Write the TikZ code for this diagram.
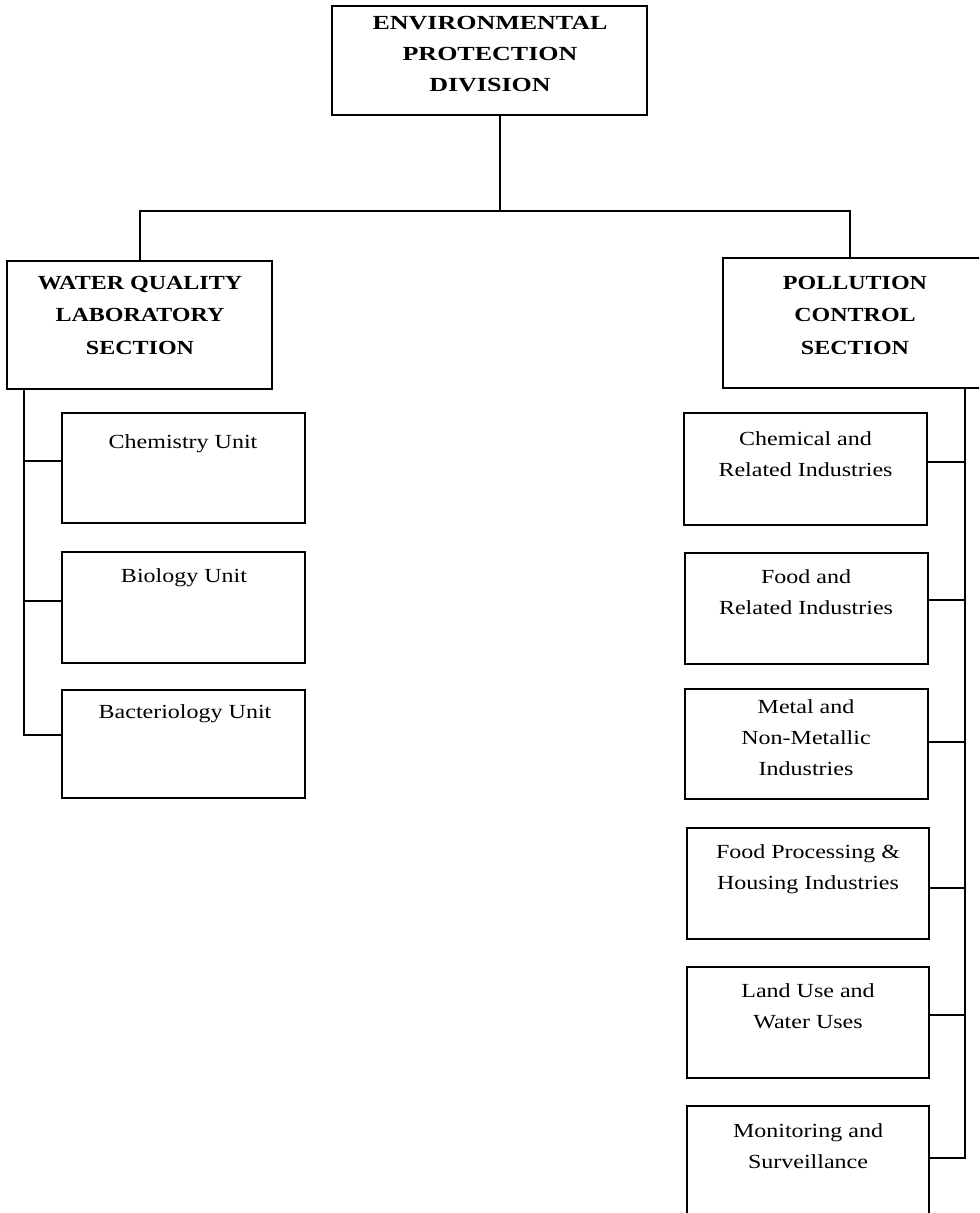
\documentclass[tikz,border=0pt]{standalone}
\usepackage{fontspec}
\setmainfont{Liberation Serif}[FakeStretch=1.2]
\newfontfamily\titlefont{Liberation Serif}[FakeStretch=1.3]
\usetikzlibrary{fit}

\tikzset{
  box/.style={draw, inner sep=0pt, line width=1.1pt},
  txt/.style={inner sep=0pt, anchor=north, align=center,
              font=\fontsize{15}{23}\selectfont},
  sectxt/.style={txt, font=\fontsize{15}{24.5}\selectfont\bfseries},
  titletxt/.style={txt, font=\titlefont\fontsize{15}{23.3}\selectfont\bfseries},
  link/.style={line width=1.1pt}
}

\begin{document}
\begin{tikzpicture}[x=0.75pt, y=-0.75pt]
\useasboundingbox (0,0) rectangle (979,1213);
\clip (0,0) rectangle (979,1213);

% division and its two sections
\node[box, fit={(332,6) (647,115)}] (epd) {};
\node[box, fit={(7,261) (272,389)}] (wql) {};
\node[box, fit={(723,258) (985,388)}] (pcs) {};

\node[titletxt] (epd-t) at (490,15.7) {ENVIRONMENTAL\\PROTECTION\\DIVISION};
\node[sectxt] (wql-t) at (140,275.7) {WATER QUALITY\\LABORATORY\\SECTION};
\node[sectxt] (pcs-t) at (855,275.7) {POLLUTION\\CONTROL\\SECTION};

% laboratory units
\node[box, fit={(62,413) (305,523)}] (chm) {};
\node[box, fit={(62,552) (305,663)}] (bio) {};
\node[box, fit={(62,690) (305,798)}] (bac) {};
\node[txt] (chm-t) at (183,434.7) {Chemistry Unit};
\node[txt] (bio-t) at (184,568.7) {Biology Unit};
\node[txt] (bac-t) at (185,704.7) {Bacteriology Unit};

% pollution control units
\node[box, fit={(684,413) (927,525)}] (cri) {};
\node[box, fit={(685,553) (928,664)}] (fri) {};
\node[box, fit={(685,689) (928,799)}] (mni) {};
\node[box, fit={(687,828) (929,939)}] (fph) {};
\node[box, fit={(687,967) (929,1078)}] (luw) {};
\node[box, fit={(687,1106) (929,1222)}] (mos) {};
\node[txt] (cri-t) at (805.5,431.7) {Chemical and\\Related Industries};
\node[txt] (fri-t) at (806,569.7) {Food and\\Related Industries};
\node[txt] (mni-t) at (806,699.7) {Metal and\\Non-Metallic\\Industries};
\node[txt] (fph-t) at (808,844.7) {Food Processing \&\\Housing Industries};
\node[txt] (luw-t) at (808,983.7) {Land Use and\\Water Uses};
\node[txt] (mos-t) at (808,1123.7) {Monitoring and\\Surveillance};

% top-level connectors
\coordinate (stem) at (500,211);
\coordinate (busL) at (140,211);
\coordinate (busR) at (850,211);
\draw[link] (epd.south -| stem) -- (stem);
\draw[link] (wql.north -| busL) -- (busL) -- (busR) -- (pcs.north -| busR);

% laboratory bus
\coordinate (lbus) at (24,0);
\coordinate (chmJ) at (62,461);
\coordinate (bioJ) at (62,601);
\coordinate (bacJ) at (62,735);
\draw[link] (wql.south -| lbus) -- (lbus |- bacJ) -- (bacJ);
\draw[link] (lbus |- chmJ) -- (chmJ);
\draw[link] (lbus |- bioJ) -- (bioJ);

% pollution control bus
\coordinate (rbus) at (965,0);
\coordinate (criJ) at (927,462);
\coordinate (friJ) at (928,600);
\coordinate (mniJ) at (928,742);
\coordinate (fphJ) at (929,888);
\coordinate (luwJ) at (929,1015);
\coordinate (mosJ) at (929,1158);
\draw[link] (pcs.south -| rbus) -- (rbus |- mosJ) -- (mosJ);
\foreach \j in {criJ,friJ,mniJ,fphJ,luwJ}
  \draw[link] (rbus |- \j) -- (\j);
\end{tikzpicture}
\end{document}
